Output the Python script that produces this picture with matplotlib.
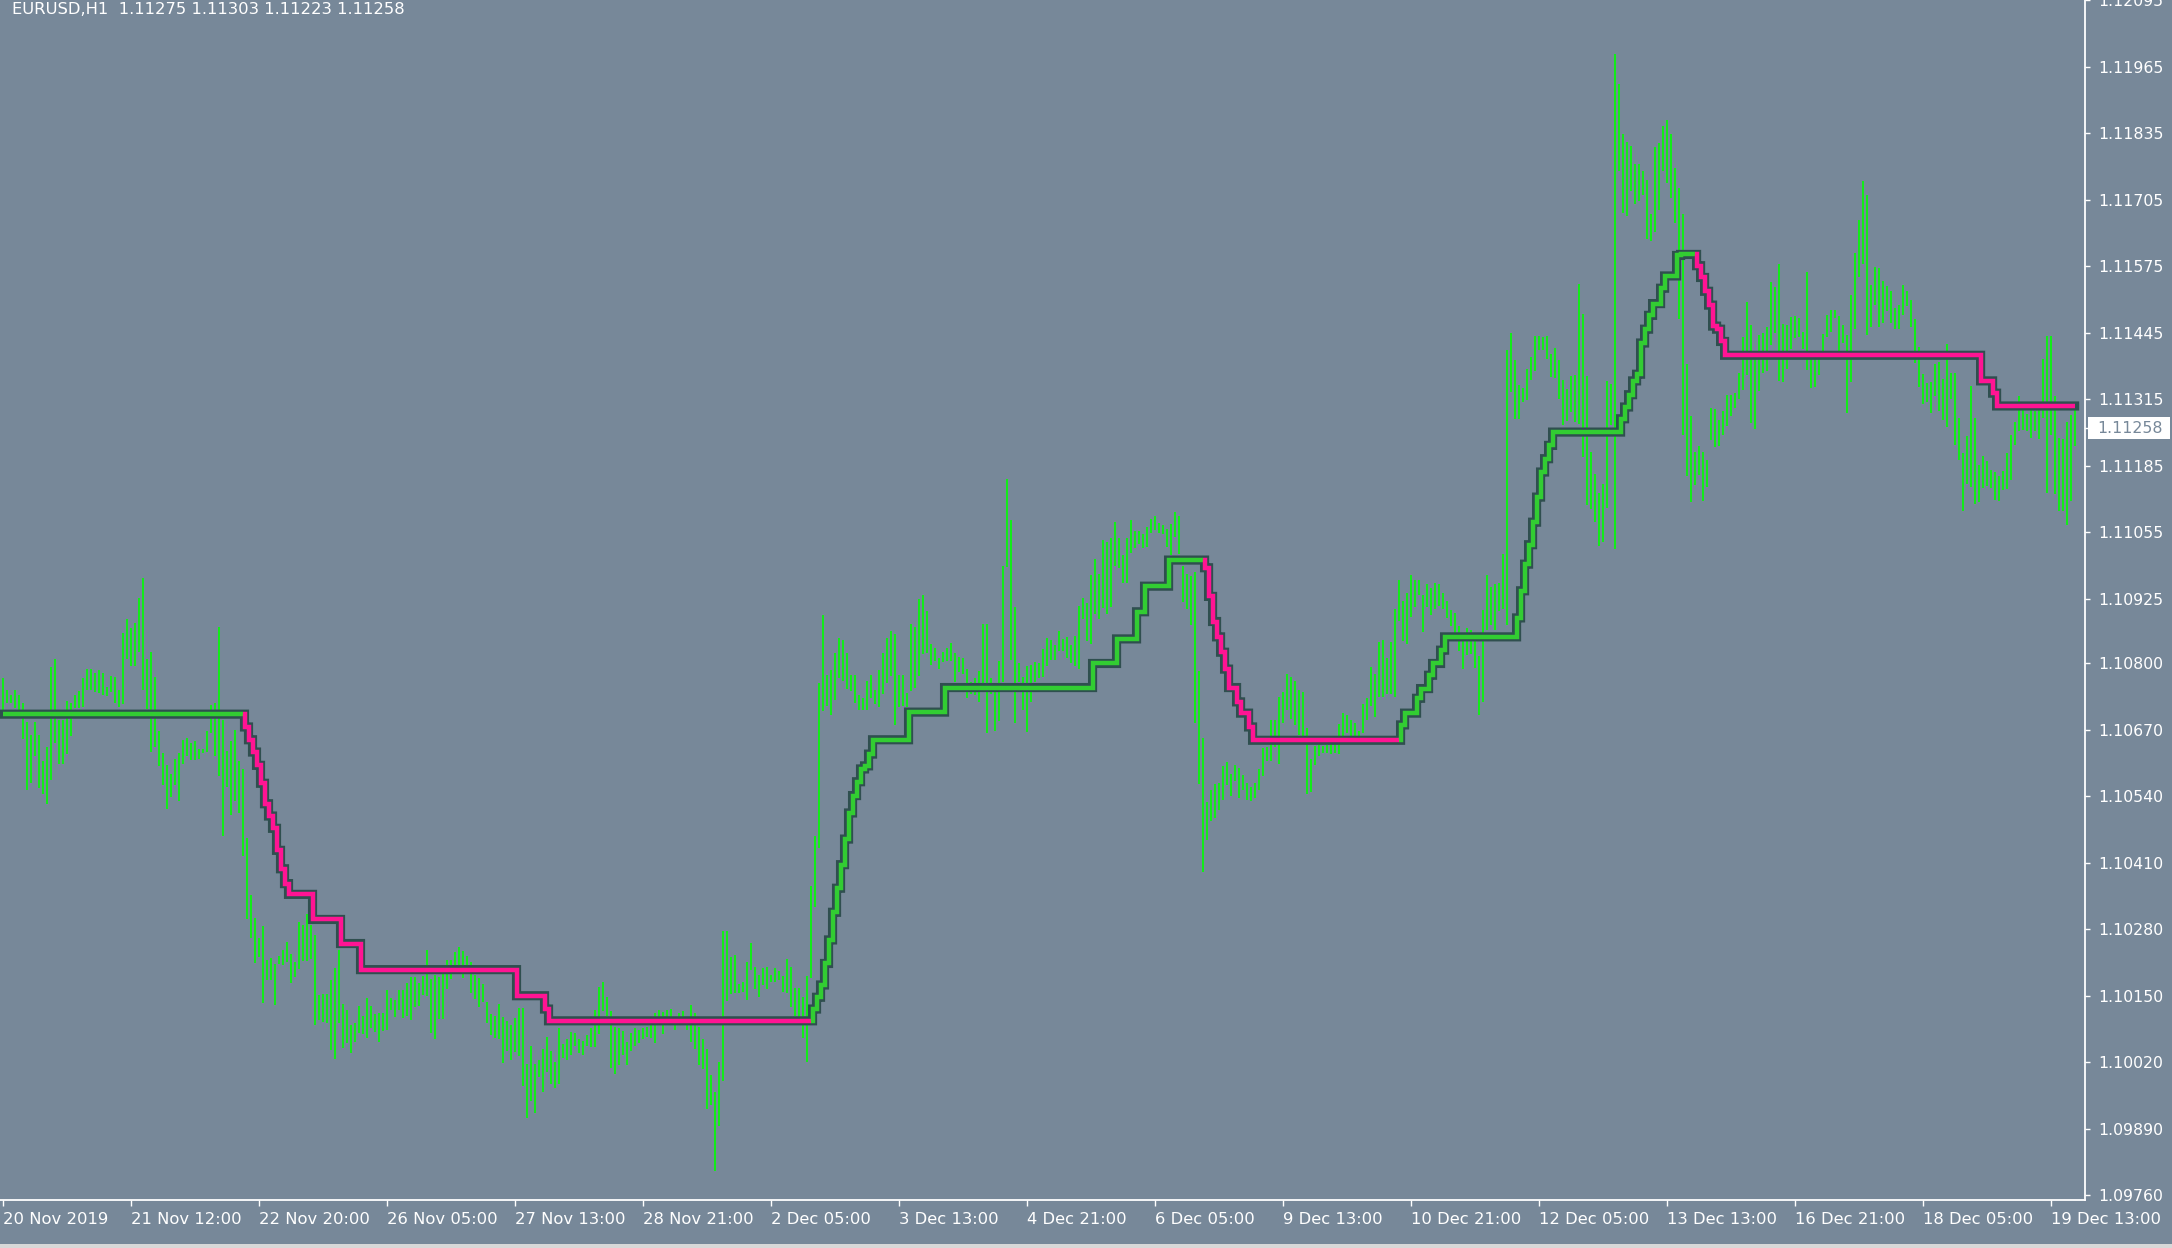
import numpy as np
import matplotlib
matplotlib.use("Agg")
import matplotlib.pyplot as plt
import matplotlib.transforms as mtransforms
from matplotlib.patches import Rectangle

# EURUSD H1, bar high / low in points (1 point = 0.00001)
highs = [
    110770, 110748, 110738, 110748, 110738, 110722, 110684, 110660, 110684, 110660,
    110608, 110636, 110792, 110808, 110688, 110688, 110726, 110722, 110738, 110746,
    110770, 110788, 110788, 110780, 110786, 110780, 110754, 110774, 110772, 110748,
    110859, 110886, 110868, 110878, 110926, 110965, 110808, 110822, 110772, 110668,
    110624, 110600, 110584, 110612, 110624, 110650, 110654, 110644, 110648, 110632,
    110632, 110668, 110718, 110722, 110870, 110688, 110628, 110648, 110670, 110608,
    110592, 110459, 110346, 110302, 110262, 110286, 110220, 110224, 110212, 110228,
    110240, 110254, 110232, 110216, 110294, 110288, 110310, 110288, 110268, 110152,
    110154, 110154, 110180, 110204, 110240, 110134, 110122, 110092, 110096, 110130,
    110110, 110146, 110130, 110114, 110116, 110116, 110162, 110146, 110142, 110162,
    110162, 110174, 110186, 110186, 110174, 110188, 110240, 110182, 110190, 110186,
    110194, 110220, 110220, 110236, 110246, 110238, 110228, 110216, 110190, 110184,
    110172, 110138, 110114, 110110, 110134, 110108, 110100, 110092, 110106, 110126,
    110126, 110016, 110052, 110016, 110024, 110045, 110070, 110043, 110020, 110086,
    110055, 110066, 110080, 110078, 110066, 110062, 110074, 110086, 110122, 110168,
    110176, 110147, 110120, 110089, 110086, 110082, 110060, 110078, 110086, 110083,
    110086, 110089, 110097, 110116, 110122, 110119, 110122, 110124, 110101, 110116,
    110120, 110101, 110132, 110116, 110089, 110066, 110045, 109995, 109962, 110021,
    110276, 110276, 110225, 110230, 110173, 110176, 110215, 110253, 110207, 110191,
    110204, 110207, 110191, 110204, 110199, 110188, 110222, 110207, 110165, 110165,
    110147, 110188, 110364, 110462, 110760, 110894, 110777, 110786, 110819, 110848,
    110845, 110819, 110777, 110777, 110738, 110731, 110765, 110777, 110748, 110786,
    110819, 110848, 110863, 110856, 110777, 110777, 110742, 110876, 110871, 110925,
    110933, 110902, 110837, 110830, 110809, 110822, 110830, 110839, 110819, 110812,
    110809, 110789, 110762, 110771, 110785, 110876, 110876, 110771, 110755, 110804,
    110990, 111160, 111080, 110910, 110800, 110773, 110794, 110796, 110802, 110799,
    110827, 110848, 110844, 110836, 110863, 110847, 110850, 110836, 110853, 110911,
    110926, 110918, 110971, 111004, 110974, 111040, 111037, 111044, 111075, 111044,
    111010, 111044, 111079, 111057, 111057, 111051, 111066, 111081, 111087, 111074,
    111069, 111062, 111072, 111094, 111087, 110989, 110974, 110969, 110977, 110785,
    110653, 110528, 110551, 110563, 110566, 110598, 110606, 110584, 110601, 110595,
    110582, 110566, 110558, 110566, 110593, 110633, 110636, 110688, 110688, 110733,
    110743, 110778, 110773, 110765, 110748, 110743, 110672, 110613, 110638, 110643,
    110638, 110640, 110649, 110649, 110681, 110703, 110698, 110688, 110683, 110668,
    110720, 110732, 110793, 110778, 110840, 110844, 110810, 110840, 110905, 110962,
    110922, 110937, 110972, 110963, 110963, 110932, 110954, 110947, 110956, 110954,
    110937, 110922, 110903, 110897, 110872, 110842, 110868, 110865, 110842, 110814,
    110903, 110972, 110948, 110954, 110957, 111012, 111412, 111445, 111391, 111343,
    111337, 111374, 111398, 111438, 111438, 111436, 111438, 111403, 111416, 111391,
    111352, 111335, 111360, 111363, 111541, 111482, 111361, 111213, 111169, 111132,
    111150, 111350, 111345, 111990, 111931, 111834, 111818, 111810, 111775, 111775,
    111761, 111744, 111677, 111807, 111815, 111849, 111861, 111834, 111767, 111728,
    111677, 111384, 111282, 111213, 111224, 111213, 111196, 111298, 111296, 111274,
    111292, 111323, 111323, 111327, 111366, 111437, 111506, 111460, 111408, 111440,
    111444, 111457, 111545, 111534, 111580, 111462, 111460, 111475, 111477, 111473,
    111446, 111563, 111406, 111403, 111393, 111442, 111479, 111489, 111489, 111477,
    111460, 111440, 111518, 111600, 111666, 111742, 111715, 111538, 111574, 111572,
    111547, 111536, 111527, 111493, 111500, 111539, 111527, 111509, 111471, 111418,
    111364, 111347, 111349, 111384, 111388, 111354, 111424, 111366, 111366, 111278,
    111210, 111243, 111341, 111278, 111186, 111204, 111195, 111177, 111173, 111166,
    111175, 111210, 111245, 111270, 111321, 111294, 111287, 111294, 111292, 111297,
    111393, 111438, 111438, 111321, 111240, 111238, 111271, 111285, 111303,
]
lows = [
    110708, 110722, 110722, 110712, 110704, 110652, 110552, 110566, 110618, 110555,
    110544, 110524, 110571, 110644, 110602, 110602, 110622, 110658, 110712, 110712,
    110714, 110748, 110748, 110744, 110742, 110738, 110736, 110744, 110722, 110714,
    110720, 110808, 110794, 110794, 110822, 110747, 110710, 110626, 110636, 110598,
    110562, 110515, 110538, 110562, 110531, 110602, 110618, 110610, 110610, 110612,
    110624, 110626, 110664, 110618, 110579, 110462, 110558, 110504, 110531, 110506,
    110422, 110300, 110262, 110214, 110226, 110136, 110180, 110180, 110131, 110212,
    110210, 110216, 110174, 110186, 110202, 110218, 110218, 110222, 110092, 110102,
    110098, 110096, 110044, 110026, 110096, 110048, 110058, 110038, 110060, 110078,
    110076, 110068, 110086, 110080, 110060, 110082, 110084, 110122, 110108, 110122,
    110106, 110110, 110102, 110128, 110130, 110152, 110150, 110078, 110066, 110104,
    110104, 110164, 110182, 110194, 110196, 110184, 110192, 110156, 110144, 110128,
    110138, 110096, 110074, 110068, 110066, 110018, 110042, 110024, 110040, 110032,
    109974, 109912, 109944, 109920, 109992, 109962, 110001, 109977, 109970, 109977,
    110028, 110024, 110035, 110051, 110039, 110034, 110052, 110049, 110049, 110076,
    110120, 110111, 110008, 109998, 110014, 110034, 110014, 110043, 110052, 110057,
    110065, 110070, 110068, 110057, 110093, 110076, 110097, 110101, 110083, 110101,
    110099, 110083, 110060, 110045, 110014, 110006, 109929, 109936, 109807, 109895,
    109983, 110140, 110153, 110155, 110155, 110157, 110142, 110201, 110163, 110147,
    110171, 110163, 110176, 110176, 110181, 110157, 110155, 110128, 110111, 110109,
    110068, 110021, 110184, 110323, 110439, 110707, 110715, 110698, 110727, 110771,
    110765, 110750, 110745, 110721, 110709, 110709, 110709, 110732, 110719, 110714,
    110740, 110760, 110775, 110678, 110714, 110715, 110714, 110746, 110752, 110775,
    110817, 110819, 110796, 110804, 110789, 110802, 110804, 110804, 110763, 110783,
    110779, 110732, 110740, 110737, 110724, 110755, 110663, 110740, 110667, 110686,
    110763, 110987, 110806, 110683, 110762, 110709, 110665, 110724, 110763, 110771,
    110773, 110795, 110805, 110806, 110823, 110823, 110810, 110799, 110795, 110788,
    110885, 110842, 110838, 110896, 110885, 110907, 110896, 110909, 110989, 110986,
    110956, 110956, 111014, 111025, 111032, 111025, 111027, 111054, 111060, 111054,
    111051, 111027, 111010, 111047, 111012, 110920, 110905, 110875, 110683, 110563,
    110391, 110455, 110491, 110498, 110513, 110533, 110561, 110541, 110569, 110537,
    110551, 110533, 110530, 110537, 110552, 110580, 110608, 110608, 110636, 110603,
    110683, 110709, 110690, 110678, 110660, 110651, 110545, 110548, 110601, 110618,
    110625, 110625, 110623, 110625, 110623, 110655, 110663, 110655, 110653, 110657,
    110663, 110688, 110715, 110694, 110733, 110733, 110740, 110740, 110733, 110882,
    110842, 110838, 110890, 110909, 110933, 110860, 110909, 110894, 110905, 110911,
    110905, 110887, 110872, 110857, 110823, 110788, 110815, 110817, 110790, 110698,
    110723, 110865, 110874, 110865, 110902, 110905, 110874, 111330, 111276, 111276,
    111309, 111313, 111352, 111371, 111412, 111412, 111393, 111358, 111356, 111315,
    111264, 111272, 111291, 111270, 111267, 111202, 111109, 111101, 111076, 111028,
    111036, 111103, 111265, 111023, 111761, 111679, 111674, 111722, 111697, 111702,
    111714, 111628, 111625, 111641, 111684, 111761, 111738, 111709, 111659, 111472,
    111245, 111166, 111115, 111148, 111168, 111117, 111144, 111236, 111222, 111224,
    111245, 111262, 111282, 111298, 111316, 111334, 111363, 111269, 111257, 111331,
    111366, 111371, 111422, 111444, 111351, 111348, 111374, 111413, 111435, 111437,
    111413, 111372, 111337, 111339, 111363, 111410, 111437, 111446, 111473, 111410,
    111425, 111289, 111348, 111452, 111554, 111580, 111440, 111457, 111499, 111457,
    111464, 111487, 111464, 111453, 111453, 111480, 111497, 111457, 111386, 111339,
    111305, 111309, 111289, 111321, 111292, 111274, 111260, 111316, 111226, 111196,
    111097, 111150, 111144, 111110, 111114, 111141, 111146, 111141, 111119, 111117,
    111137, 111139, 111157, 111226, 111253, 111255, 111253, 111240, 111253, 111238,
    111278, 111132, 111245, 111130, 111097, 111097, 111070, 111117, 111223,
]

# stepped trend line: bar where each level starts, and the level in points
line_from = [0, 61, 62, 63, 64, 65, 66, 67, 68, 69, 70, 71, 72, 78, 85, 90, 129, 136, 137,
             203, 204, 205, 206, 207, 208, 209, 210, 211, 212, 213, 214, 215, 216, 217, 218,
             227, 236, 273, 279, 284, 286, 292,
             301, 302, 303, 304, 305, 306, 307, 309, 310, 312, 313,
             350, 351, 354, 355, 357, 358, 360, 361, 379, 380, 381, 382, 383, 384, 385, 386,
             387, 388, 405, 406, 407, 408, 409, 410, 411, 412, 413, 415, 416, 419, 420,
             424, 425, 426, 427, 428, 429, 430, 431, 495, 498, 499]
line_level = [110700, 110675, 110650, 110626, 110600, 110565, 110525, 110501, 110477, 110434,
              110398, 110369, 110348, 110299, 110252, 110201, 110150, 110124, 110101,
              110124, 110147, 110171, 110213, 110259, 110313, 110360, 110406, 110456, 110507,
              110541, 110568, 110593, 110599, 110622, 110650, 110704, 110752, 110799, 110847,
              110900, 110950, 111001,
              110986, 110930, 110881, 110851, 110821, 110788, 110752, 110724, 110702, 110675, 110649,
              110679, 110702, 110731, 110750, 110776, 110799, 110825, 110851, 110888, 110941,
              110993, 111031, 111075, 111124, 111173, 111199, 111225, 111251, 111277, 111300,
              111324, 111351, 111364, 111425, 111452, 111479, 111502, 111532, 111556, 111596, 111598,
              111576, 111553, 111526, 111499, 111458, 111452, 111428, 111401, 111351, 111327, 111302]

# colour runs of the line: first bar of the run, 1 = up (green), 0 = down (pink)
trend_from = [0, 61, 203, 301, 350, 424]
trend_up = [1, 0, 1, 0, 1, 0]

price_ticks = [1.12095, 1.11965, 1.11835, 1.11705, 1.11575, 1.11445, 1.11315, 1.11185, 1.11055,
               1.10925, 1.10800, 1.10670, 1.10540, 1.10410, 1.10280, 1.10150, 1.10020, 1.09890,
               1.09760]
time_tick_bars = [0, 32, 64, 96, 128, 160, 192, 224, 256, 288, 320, 352, 384, 416, 448, 480, 512]
time_labels = ["20 Nov 2019", "21 Nov 12:00", "22 Nov 20:00", "26 Nov 05:00", "27 Nov 13:00",
               "28 Nov 21:00", "2 Dec 05:00", "3 Dec 13:00", "4 Dec 21:00", "6 Dec 05:00",
               "9 Dec 13:00", "10 Dec 21:00", "12 Dec 05:00", "13 Dec 13:00", "16 Dec 21:00",
               "18 Dec 05:00", "19 Dec 13:00"]
last_price = 1.11258
header = "EURUSD,H1  1.11275 1.11303 1.11223 1.11258"

bg = "#778899"
W, H = 2172, 1248

hi = np.array(highs) / 1e5
lo = np.array(lows) / 1e5
n = len(hi)
x = np.arange(n)
line = np.repeat(np.array(line_level) / 1e5, np.diff(line_from + [n]))

fig = plt.figure(figsize=(W / 100, H / 100), dpi=100)
fig.patch.set_facecolor(bg)
ax = fig.add_axes([0, 48 / H, 2085 / W, 1200 / H])
ax.set_facecolor(bg)

# bars
ax.vlines(x, lo, hi, colors="#00ff00", linewidth=1.2, zorder=1)

# trend line: dark outline then coloured core
ax.step(x, line, where="mid", color="#2f4f4f", linewidth=6.6, zorder=2,
        solid_joinstyle="miter", solid_capstyle="projecting")
ends = trend_from[1:] + [n]
for s, e, up in zip(trend_from, ends, trend_up):
    a = max(s - 1, 0)
    ax.step(x[a:e], line[a:e], where="mid", color="#32cd32" if up else "#ff1493",
            linewidth=3.2, zorder=3, solid_joinstyle="miter", solid_capstyle="butt")

ax.set_xlim(-0.625, 520.6)
ax.set_ylim(1.09751, 1.12095)

for s in ["top", "left"]:
    ax.spines[s].set_visible(False)
for s in ["bottom", "right"]:
    ax.spines[s].set_color("white")
    ax.spines[s].set_linewidth(1.3)

ax.yaxis.tick_right()
ax.set_yticks(price_ticks)
ax.set_yticklabels([f"{p:.5f}" for p in price_ticks])
ax.set_xticks(time_tick_bars)
ax.set_xticklabels(time_labels, ha="left")
ax.tick_params(axis="y", colors="white", direction="out", length=3.6, width=1.0, pad=6,
               labelsize=11.3)
ax.tick_params(axis="x", colors="white", direction="out", length=4.0, width=1.0, pad=5,
               labelsize=11.8)

# current price label on the scale
tr = mtransforms.blended_transform_factory(fig.transFigure, ax.transData)
box_h = 11 * (ax.get_ylim()[1] - ax.get_ylim()[0]) / 1200
ax.add_patch(Rectangle((2088 / W, last_price - box_h), 82 / W, 2 * box_h, transform=tr,
                       facecolor="white", edgecolor="none", clip_on=False, zorder=5))
ax.text(2097 / W, last_price, f"{last_price:.5f}", transform=tr, color=bg, fontsize=11.3,
        va="center", ha="left", zorder=6, clip_on=False)
ax.plot([2085 / W, 2090 / W], [last_price, last_price], transform=tr, color="white",
        linewidth=1.0, clip_on=False, zorder=5)

fig.text(12 / W, 1 - 10 / H, header, color="white", fontsize=11.8, va="center", ha="left")
fig.add_artist(Rectangle((0, 0), 1, 4 / H, transform=fig.transFigure, facecolor="#d8d8d8",
                         edgecolor="none"))

fig.savefig("out.png", dpi=100, facecolor=bg)
